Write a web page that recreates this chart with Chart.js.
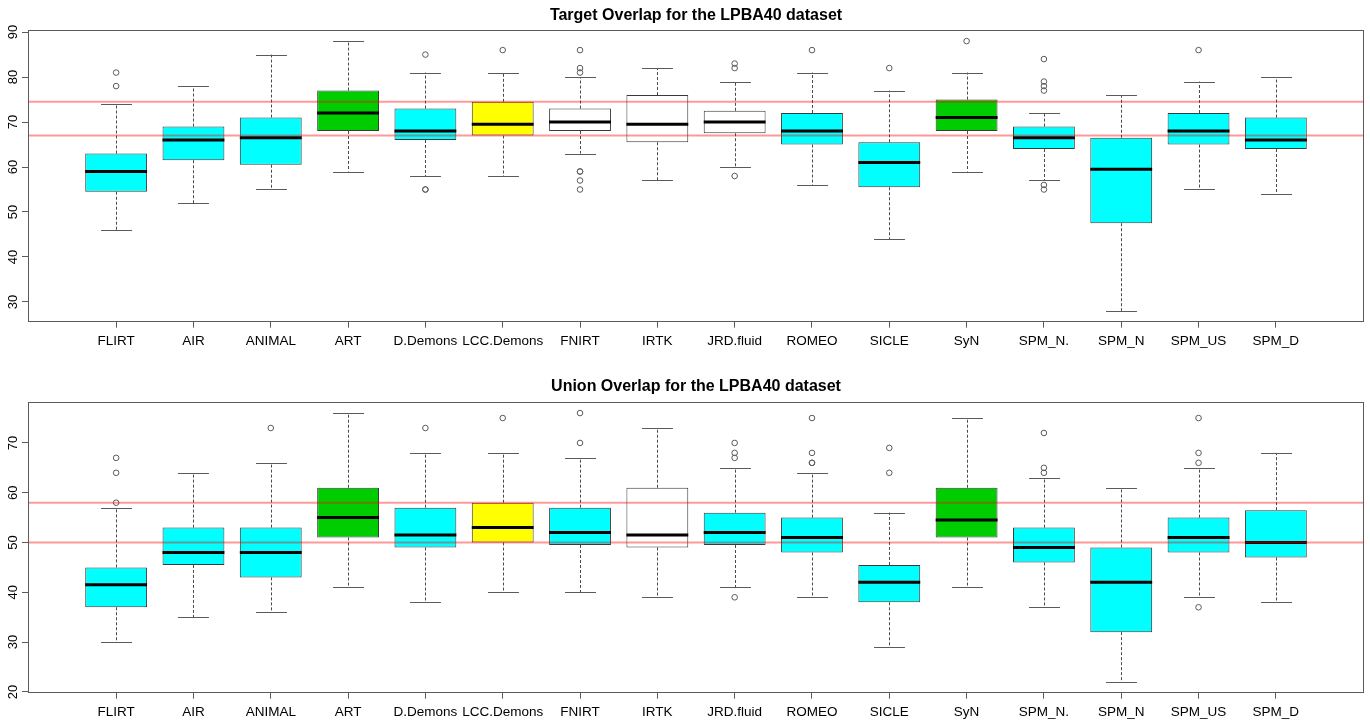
<!DOCTYPE html>
<html>
<head>
<meta charset="utf-8">
<script src="https://cdn.jsdelivr.net/npm/chart.js@4.4.1/dist/chart.umd.min.js"></script>
<style>
  html, body { margin: 0; padding: 0; background: #fff; width: 1370px; height: 724px; overflow: hidden; }
  canvas { position: absolute; left: 0; }
  #targetChart { top: 0; }
  #unionChart { top: 371px; }
</style>
</head>
<body>
<canvas id="targetChart" width="1370" height="362"></canvas>
<canvas id="unionChart" width="1370" height="353"></canvas>
<script>
// Registration methods, in plotting order
const methods = ['FLIRT', 'AIR', 'ANIMAL', 'ART', 'D.Demons', 'LCC.Demons', 'FNIRT', 'IRTK',
                 'JRD.fluid', 'ROMEO', 'SICLE', 'SyN', 'SPM_N.', 'SPM_N', 'SPM_US', 'SPM_D'];

// Target overlap (%): whisker ends, quartiles, medians, outliers
const targetLow  = [46, 52, 55, 59, 58, 58, 63, 57, 60, 56, 44, 59, 57, 28, 55, 54];
const targetQ1   = [54.5, 61.5, 60.5, 68, 66, 67, 68, 65.5, 67.5, 65, 55.5, 68, 64, 47.5, 65, 64];
const targetMed  = [59, 66, 66.5, 72, 68, 69.5, 70, 69.5, 70, 68, 61, 71, 66.5, 59.5, 68, 66];
const targetQ3   = [63, 69, 71, 77, 73, 74.5, 73, 76, 72.5, 72, 65.5, 75, 69, 66.5, 72, 71];
const targetHigh = [74, 78, 85, 88, 81, 81, 80, 82, 79, 81, 77, 81, 72, 76, 79, 80];
const targetOut  = [[81, 78], [], [], [], [85, 55, 55], [86], [86, 82, 81, 59, 59, 57, 55], [],
                    [83, 82, 58], [86], [82], [88], [84, 79, 78, 77, 56, 55], [], [86], []];
const targetTicks = [30, 40, 50, 60, 70, 80, 90];

// Union overlap (%)
const unionLow  = [30, 35, 36, 41, 38, 40, 40, 39, 41, 39, 29, 41, 37, 22, 39, 38];
const unionQ1   = [37, 45.5, 43, 51, 49, 50, 49.5, 49, 49.5, 48, 38, 51, 46, 32, 48, 47];
const unionMed  = [41.5, 48, 48, 55, 51.5, 53, 52, 51.5, 52, 51, 42, 54.5, 49, 42, 51, 50];
const unionQ3   = [45, 53, 53, 61, 57, 58, 57, 61, 56, 55, 45.5, 61, 53, 49, 55, 56.5];
const unionHigh = [57, 64, 66, 76, 68, 68, 67, 73, 65, 64, 56, 75, 63, 61, 65, 68];
const unionOut  = [[67, 64, 58], [], [73], [], [73], [75], [76, 70], [], [70, 68, 67, 39],
                   [75, 68, 66, 66], [69, 64], [], [72, 65, 64], [], [75, 68, 66, 37], []];
const unionTicks = [20, 30, 40, 50, 60, 70];

// Box fill colours
const CY = '#00ffff', GR = '#00cd00', YE = '#ffff00', WH = '#ffffff';
const targetFill = [CY, CY, CY, GR, CY, YE, WH, WH, WH, CY, CY, GR, CY, CY, CY, CY];
const unionFill  = [CY, CY, CY, GR, CY, YE, CY, WH, CY, CY, CY, GR, CY, CY, CY, CY];

// Reference lines sit at the quartiles of LCC.Demons
const refIndex = methods.indexOf('LCC.Demons');

const FONT = '"Liberation Sans", Arial, Helvetica, sans-serif';
const BOX_DATASET = 1;

const boxPlotPlugin = {
  id: 'boxplot',
  beforeDatasetsDraw(chart, args, opts) {
    const { ctx, scales: { x, y } } = chart;
    const meta = chart.getDatasetMeta(BOX_DATASET);
    ctx.save();
    ctx.strokeStyle = '#4a4a4a';
    ctx.lineWidth = 1;
    opts.low.forEach((lo, i) => {
      const px = Math.round(x.getPixelForValue(i + 1)) + 0.5;
      const half = meta.data[i].width / 4;
      ctx.setLineDash([3, 2]);
      ctx.beginPath();
      ctx.moveTo(px, y.getPixelForValue(opts.q3[i]));
      ctx.lineTo(px, y.getPixelForValue(opts.high[i]));
      ctx.moveTo(px, y.getPixelForValue(opts.q1[i]));
      ctx.lineTo(px, y.getPixelForValue(lo));
      ctx.stroke();
      ctx.setLineDash([]);
      ctx.strokeStyle = '#5a5a5a';
      ctx.beginPath();
      const yh = Math.round(y.getPixelForValue(opts.high[i])) + 0.5;
      const yl = Math.round(y.getPixelForValue(lo)) + 0.5;
      ctx.moveTo(px - half, yh); ctx.lineTo(px + half, yh);
      ctx.moveTo(px - half, yl); ctx.lineTo(px + half, yl);
      ctx.stroke();
      ctx.strokeStyle = '#4a4a4a';
    });
    ctx.restore();
  },
  afterDatasetsDraw(chart, args, opts) {
    const { ctx, chartArea: a, scales: { x, y } } = chart;
    const meta = chart.getDatasetMeta(BOX_DATASET);
    ctx.save();
    // medians
    ctx.strokeStyle = '#000';
    ctx.lineWidth = 3;
    opts.med.forEach((m, i) => {
      const bar = meta.data[i];
      const py = y.getPixelForValue(m);
      ctx.beginPath();
      ctx.moveTo(bar.x - bar.width / 2, py);
      ctx.lineTo(bar.x + bar.width / 2, py);
      ctx.stroke();
    });
    // reference lines
    ctx.strokeStyle = 'rgba(255, 0, 0, 0.4)';
    ctx.lineWidth = 2;
    [opts.q1[refIndex], opts.q3[refIndex]].forEach(v => {
      const py = y.getPixelForValue(v);
      ctx.beginPath();
      ctx.moveTo(a.left, py);
      ctx.lineTo(a.right, py);
      ctx.stroke();
    });
    // plot frame
    ctx.strokeStyle = '#5a5a5a';
    ctx.lineWidth = 1;
    ctx.strokeRect(Math.round(a.left) + 0.5, Math.round(a.top) + 0.5,
                   Math.round(a.right - a.left) - 1, Math.round(a.bottom - a.top));
    // y tick labels, drawn parallel to the axis
    ctx.fillStyle = '#000';
    ctx.font = '13px ' + FONT;
    ctx.textAlign = 'center';
    ctx.textBaseline = 'alphabetic';
    y.ticks.forEach(t => {
      ctx.save();
      ctx.translate(a.left - 11, y.getPixelForValue(t.value));
      ctx.rotate(-Math.PI / 2);
      ctx.fillText(String(t.value), 0, 0);
      ctx.restore();
    });
    ctx.restore();
  }
};

function makeChart(id, title, low, q1, med, q3, high, out, ticks, fills, axisHeight, titleGap) {
  const n = methods.length;
  const allVals = low.concat(high, out.flat());
  const vMin = Math.min(...allVals), vMax = Math.max(...allVals);
  const pad = (vMax - vMin) * 0.04;
  const xPad = n * 0.04;

  const boxes = methods.map((_, i) => ({ x: i + 1, y: [q1[i], q3[i]] }));
  const outliers = [];
  out.forEach((vals, i) => vals.forEach(v => outliers.push({ x: i + 1, y: v })));

  return new Chart(document.getElementById(id), {
    type: 'bar',
    data: {
      datasets: [
        {
          type: 'scatter',
          data: outliers,
          pointStyle: 'circle',
          radius: 2.8,
          borderWidth: 1,
          borderColor: '#5a5a5a',
          backgroundColor: 'rgba(0,0,0,0)'
        },
        {
          type: 'bar',
          data: boxes,
          backgroundColor: fills,
          borderColor: '#3a3a3a',
          borderWidth: 1,
          borderSkipped: false,
          barPercentage: 0.8,
          categoryPercentage: 1
        }
      ]
    },
    options: {
      responsive: false,
      animation: false,
      devicePixelRatio: 1,
      layout: { padding: { left: 0, right: 6, top: 0, bottom: 0 } },
      scales: {
        x: {
          type: 'linear',
          offset: false,
          min: 0.5 - xPad,
          max: n + 0.5 + xPad,
          afterBuildTicks: s => { s.ticks = methods.map((_, i) => ({ value: i + 1 })); },
          afterFit: s => { s.height = axisHeight; },
          ticks: {
            autoSkip: false, maxRotation: 0, minRotation: 0, padding: 5,
            color: '#000', font: { family: FONT, size: 13.5 },
            callback: v => methods[v - 1]
          },
          grid: { drawOnChartArea: false, drawTicks: true, tickLength: 6, color: '#5a5a5a', offset: false },
          border: { display: false }
        },
        y: {
          type: 'linear',
          min: vMin - pad,
          max: vMax + pad,
          afterBuildTicks: s => { s.ticks = ticks.map(v => ({ value: v })); },
          afterFit: s => { s.width = 28; },
          ticks: { display: false },
          grid: { drawOnChartArea: false, drawTicks: true, tickLength: 6, color: '#5a5a5a' },
          border: { display: false }
        }
      },
      plugins: {
        legend: { display: false },
        tooltip: { enabled: false },
        title: {
          display: true,
          text: title,
          fullSize: false,
          color: '#000',
          font: { family: FONT, size: 16, weight: 'bold' },
          padding: { top: 6, bottom: titleGap }
        },
        boxplot: { low, q1, med, q3, high }
      }
    },
    plugins: [boxPlotPlugin]
  });
}

makeChart('targetChart', 'Target Overlap for the LPBA40 dataset',
  targetLow, targetQ1, targetMed, targetQ3, targetHigh, targetOut, targetTicks, targetFill, 40.3, 5.1);
makeChart('unionChart', 'Union Overlap for the LPBA40 dataset',
  unionLow, unionQ1, unionMed, unionQ3, unionHigh, unionOut, unionTicks, unionFill, 31.3, 6.1);
</script>
</body>
</html>
